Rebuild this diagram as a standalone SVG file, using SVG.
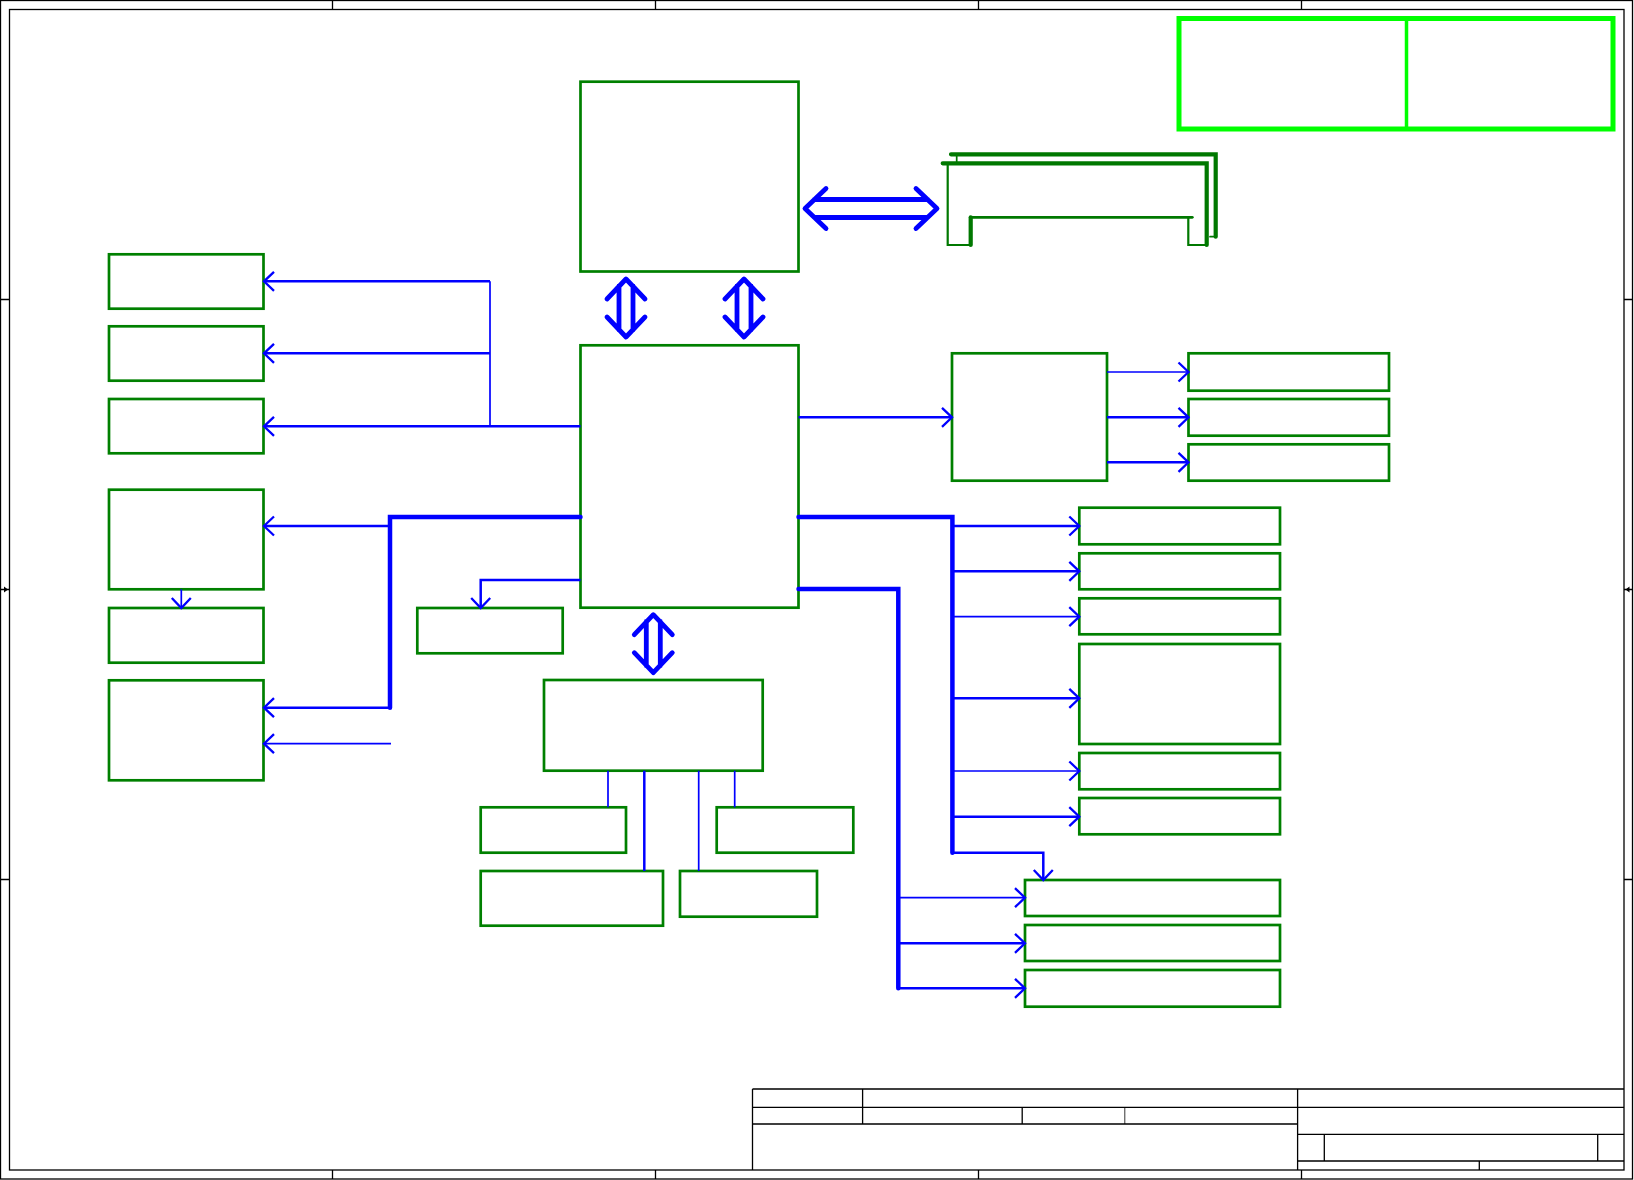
<svg xmlns="http://www.w3.org/2000/svg" width="1634" height="1180" viewBox="0 0 1634 1180">
<style>
.frame{fill:none;stroke:#000;stroke-width:1.3}
.thin{fill:none;stroke:#000;stroke-width:0.8}
.node{fill:none;stroke:#008000;stroke-width:2.7}
.lime{fill:none;stroke:#00ff00;stroke-width:5}
.slot{fill:none;stroke:#007800;stroke-linecap:round}
.c{fill:none;stroke:#0000ff;stroke-linejoin:miter}
.w1{stroke-width:1.7}
.w2{stroke-width:2.5}
.w4{stroke-width:4.5;stroke-linecap:round}
.dbl{fill:none;stroke:#0000ff;stroke-width:4.8;stroke-linecap:round;stroke-linejoin:round}
</style>
<defs>
<marker id="ah" markerUnits="userSpaceOnUse" markerWidth="14" markerHeight="24" viewBox="-12 -12 14 24" refX="0" refY="0" orient="auto">
<path d="M-10,-9.5 L0,0 L-10,9.5" fill="none" stroke="#0000ff" stroke-width="2.3"/>
</marker>
</defs>
<rect width="1634" height="1180" fill="#fff"/>
<g id="frame">
<rect class="frame" x="0.5" y="0.5" width="1632" height="1178.5"/>
<rect class="frame" x="9.5" y="9.5" width="1614.5" height="1160.5"/>
<path class="frame" d="M332.5,0.5V9.5M655.5,0.5V9.5M978.5,0.5V9.5M1301.5,0.5V9.5M332.5,1170V1179M655.5,1170V1179M978.5,1170V1179M1301.5,1170V1179M0.5,299.5H9.5M0.5,879.5H9.5M1624,299.5H1633M1624,879.5H1633M0.5,589.5H9.5M1624,589.5H1633"/>
<path d="M4,586.5 L8,589.5 L4,592.5Z M1629.5,586.5 L1625.5,589.5 L1629.5,592.5Z" fill="#000"/>
</g>
<g id="title-block">
<path class="frame" d="M752.5,1089H1624M752.5,1089V1170M752.5,1107.3H1624M862.6,1089V1124M752.5,1124H1297.6M1022.2,1107.3V1124M1297.6,1089V1170M1297.6,1134.3H1624M1324.3,1134.3V1161M1597.7,1134.3V1161M1297.6,1161H1624M1479.3,1161V1170"/>
<path class="thin" d="M1124.8,1107.3V1124"/>
</g>
<g id="legend">
<rect class="lime" x="1179" y="18.5" width="434" height="110.5"/>
<line x1="1406.5" y1="18.5" x2="1406.5" y2="129" stroke="#00ff00" stroke-width="3.5"/>
</g>
<g id="cpu"><rect class="node" x="580.5" y="81.7" width="218" height="189.8"/></g>
<g id="memory-slot">
<path class="slot" stroke-width="4.2" d="M951,154.3H1215.7V236.7"/>
<path class="slot" stroke-width="1.7" d="M956.7,154.3V163.3M1215.7,236.7H1210"/>
<path class="slot" stroke-width="4.2" d="M942.7,163.3H1206.7V245"/>
<path class="slot" stroke-width="2.2" d="M947.7,163.3V245H970.7M1188.3,217.3V245H1206.7"/>
<path class="slot" stroke-width="2.8" d="M970.7,217.3H1192.3"/>
<path class="slot" stroke-width="4.2" d="M970.7,217.3V245"/>
</g>
<g id="chipset"><rect class="node" x="580.5" y="345.3" width="218" height="262.4"/></g>
<g id="left-1"><rect class="node" x="109" y="254.3" width="154.5" height="54.4"/></g>
<g id="left-2"><rect class="node" x="109" y="326.3" width="154.5" height="54.4"/></g>
<g id="left-3"><rect class="node" x="109" y="399" width="154.5" height="54.3"/></g>
<g id="left-4"><rect class="node" x="109" y="489.7" width="154.5" height="99.6"/></g>
<g id="left-5"><rect class="node" x="109" y="608" width="154.5" height="54.7"/></g>
<g id="left-6"><rect class="node" x="109" y="680.3" width="154.5" height="100"/></g>
<g id="small-mid"><rect class="node" x="417.3" y="608" width="145.4" height="45.3"/></g>
<g id="south-bridge"><rect class="node" x="544" y="680" width="218.7" height="90.7"/></g>
<g id="sb-1"><rect class="node" x="480.7" y="807.3" width="145.3" height="45.4"/></g>
<g id="sb-2"><rect class="node" x="716.7" y="807.3" width="136.6" height="45.4"/></g>
<g id="sb-3"><rect class="node" x="480.7" y="871" width="182.3" height="54.7"/></g>
<g id="sb-4"><rect class="node" x="680" y="871" width="137" height="45.7"/></g>
<g id="hub"><rect class="node" x="952" y="353.3" width="155" height="127.4"/></g>
<g id="hub-1"><rect class="node" x="1188.5" y="353.3" width="200.5" height="37.4"/></g>
<g id="hub-2"><rect class="node" x="1188.5" y="399" width="200.5" height="36.7"/></g>
<g id="hub-3"><rect class="node" x="1188.5" y="444.3" width="200.5" height="36.4"/></g>
<g id="right-1"><rect class="node" x="1079.3" y="507.7" width="200.7" height="36.6"/></g>
<g id="right-2"><rect class="node" x="1079.3" y="553.3" width="200.7" height="36"/></g>
<g id="right-3"><rect class="node" x="1079.3" y="598.3" width="200.7" height="36"/></g>
<g id="right-4"><rect class="node" x="1079.3" y="644" width="200.7" height="100"/></g>
<g id="right-5"><rect class="node" x="1079.3" y="753" width="200.7" height="36.3"/></g>
<g id="right-6"><rect class="node" x="1079.3" y="798" width="200.7" height="36.3"/></g>
<g id="bottom-1"><rect class="node" x="1025" y="880" width="255" height="36"/></g>
<g id="bottom-2"><rect class="node" x="1025" y="925" width="255" height="36"/></g>
<g id="bottom-3"><rect class="node" x="1025" y="970" width="255" height="36.7"/></g>
<g id="connectors">
<path class="dbl" d="M607,299L626,279L645,299M607,317L626,337L645,317M619,286V330M633,286V330"/>
<path class="dbl" d="M725,299L744,279L763,299M725,317L744,337L763,317M737,286V330M751,286V330"/>
<path class="dbl" d="M634.3,634.7L653.3,614.7L672.3,634.7M634.3,652.7L653.3,672.7L672.3,652.7M646.3,621.5V665.8M660.3,621.5V665.8"/>
<path class="dbl" d="M826,188.5L805,208.5L826,228.5M916,188.5L937,208.5L916,228.5M814.5,199.5H927.5M814.5,217.5H927.5"/>
<path class="c w2" d="M490,281.3H264" marker-end="url(#ah)"/>
<path class="c w2" d="M490,353.3H264" marker-end="url(#ah)"/>
<path class="c w2" d="M580.5,426.3H264" marker-end="url(#ah)"/>
<path class="c w1" d="M490,281.3V426.3"/>
<path class="c w4" d="M580.5,517H390V707.7"/>
<path class="c w2" d="M390,526H264" marker-end="url(#ah)"/>
<path class="c w2" d="M390,707.7H264" marker-end="url(#ah)"/>
<path class="c w1" d="M391,743.7H264" marker-end="url(#ah)"/>
<path class="c w1" d="M181.3,589.3V608" marker-end="url(#ah)"/>
<path class="c w2" d="M580.5,580H480.7V608" marker-end="url(#ah)"/>
<path class="c w2" d="M798.5,417.3H952" marker-end="url(#ah)"/>
<path class="c w1" d="M1107,372H1188.5" marker-end="url(#ah)"/>
<path class="c w2" d="M1107,417.3H1188.5" marker-end="url(#ah)"/>
<path class="c w2" d="M1107,462.3H1188.5" marker-end="url(#ah)"/>
<path class="c w4" d="M798.5,517H952.4V852.7"/>
<path class="c w2" d="M952.4,526H1079.3" marker-end="url(#ah)"/>
<path class="c w2" d="M952.4,571.3H1079.3" marker-end="url(#ah)"/>
<path class="c w1" d="M952.4,616.7H1079.3" marker-end="url(#ah)"/>
<path class="c w2" d="M952.4,698.3H1079.3" marker-end="url(#ah)"/>
<path class="c w1" d="M952.4,771H1079.3" marker-end="url(#ah)"/>
<path class="c w2" d="M952.4,816.7H1079.3" marker-end="url(#ah)"/>
<path class="c w2" d="M952.4,852.7H1043.3V880" marker-end="url(#ah)"/>
<path class="c w4" d="M798.5,589H898.3V988.3"/>
<path class="c w1" d="M898.3,897.7H1025" marker-end="url(#ah)"/>
<path class="c w2" d="M898.3,943.3H1025" marker-end="url(#ah)"/>
<path class="c w2" d="M898.3,988.3H1025" marker-end="url(#ah)"/>
<path class="c w1" d="M608,770.7V807.3"/>
<path class="c w2" d="M644.3,770.7V871"/>
<path class="c w1" d="M698.7,770.7V871"/>
<path class="c w1" d="M734.7,770.7V807.3"/>
</g>
</svg>
